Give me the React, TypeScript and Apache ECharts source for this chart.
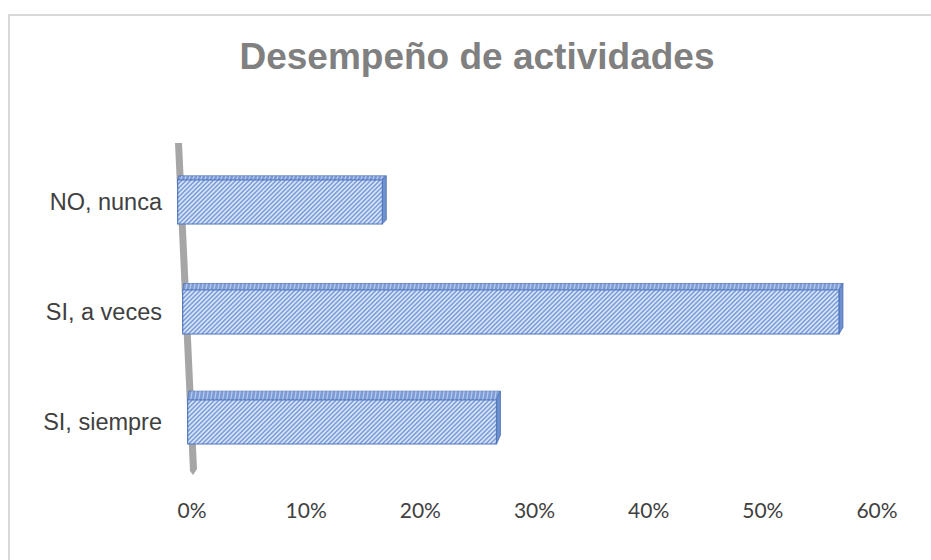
import React, { useEffect, useRef } from "react";
import * as echarts from "echarts";

const titleText = "Desempeño de actividades";
const categories = ["SI, siempre", "SI, a veces", "NO, nunca"];
const values = [0.2667, 0.5667, 0.1667];
const xMin = 0;
const xMax = 0.6;
const xInterval = 0.1;

export default function App() {
  const ref = useRef<HTMLDivElement>(null);

  useEffect(() => {
    document.body.style.margin = "0";
    const chart = echarts.init(ref.current!, null, { renderer: "svg" });

    const renderItem = (params: any, api: any) => {
      const v = api.value(0);
      const ci = api.value(1);
      const end = api.coord([v, ci]);
      const base = api.coord([0, ci]);
      const cs = params.coordSys;
      const gridTop = cs.y;
      const gridBot = cs.y + cs.height;
      const band = api.size([0, 1])[1];
      const h = band * 0.4;
      const yc = end[1];
      const wTop = gridTop - 4;
      const wBot = gridBot - 4;
      const wallLeft = (y: number) =>
        base[0] - 17 + ((y - wTop) / (wBot - wTop)) * 15;
      const children: any[] = [];
      if (params.dataIndex === 0) {
        const a = wallLeft(wTop);
        const b = wallLeft(wBot);
        children.push({
          type: "polygon",
          z2: 0,
          shape: {
            points: [
              [a, wTop],
              [a + 7, wTop],
              [b + 7, wBot - 4],
              [b + 3, wBot + 2],
              [b, wBot - 2],
            ],
          },
          style: { fill: "#a6a6a6" },
        });
      }
      const yT = yc - h / 2;
      const yB = yc + h / 2;
      const xl = wallLeft(yc);
      const xr = end[0];
      const d = 3 + ((yc - gridTop) / cs.height) * 7;
      const dx = 4;
      // top face
      children.push({
        type: "polygon",
        z2: 5,
        shape: {
          points: [
            [xl, yT],
            [xl + 1, yT - d],
            [xr + dx, yT - d],
            [xr, yT],
          ],
        },
        style: { fill: "#7d9cd6", stroke: "#4f74b8", lineWidth: 0.8 },
      });
      for (let x = xl + 3; x < xr - 1; x += 4) {
        children.push({
          type: "line",
          z2: 6,
          shape: { x1: x, y1: yT, x2: x + 1.5, y2: yT - d },
          style: { stroke: "#b7cbee", lineWidth: 1.2 },
        });
      }
      // right face
      children.push({
        type: "polygon",
        z2: 5,
        shape: {
          points: [
            [xr, yT],
            [xr + dx, yT - d],
            [xr + dx, yB - d],
            [xr, yB],
          ],
        },
        style: { fill: "#6f90cc", stroke: "#4f74b8", lineWidth: 0.8 },
      });
      // front face
      children.push({
        type: "rect",
        z2: 7,
        shape: { x: xl, y: yT, width: xr - xl, height: h },
        style: { fill: "#d6e3f7" },
      });
      const s = 4.5;
      for (let c = xl + yT; c < xr + yB; c += s) {
        const xa = Math.max(xl, c - yB);
        const xb = Math.min(xr, c - yT);
        if (xb > xa) {
          children.push({
            type: "line",
            z2: 8,
            shape: { x1: xa, y1: c - xa, x2: xb, y2: c - xb },
            style: { stroke: "#7699d8", lineWidth: 1.4 },
          });
        }
      }
      children.push({
        type: "rect",
        z2: 9,
        shape: { x: xl, y: yT, width: xr - xl, height: h },
        style: { fill: "none", stroke: "#5077bd", lineWidth: 1.2 },
      });
      return { type: "group", children };
    };

    chart.setOption({
      animation: false,
      backgroundColor: "#ffffff",
      graphic: [
        {
          type: "polyline",
          shape: { points: [[9, 560], [9, 15], [931, 15]] },
          style: { stroke: "#d9d9d9", lineWidth: 2, fill: "none" },
        },
        {
          type: "text",
          x: 477,
          y: 56,
          style: {
            text: titleText,
            fill: "#808080",
            font: "bold 37px 'Liberation Sans', Arial, sans-serif",
            textAlign: "center",
            textVerticalAlign: "middle",
          },
        },
      ],
      grid: { left: 192, right: 54, top: 147, height: 330 },
      xAxis: {
        type: "value",
        min: xMin,
        max: xMax,
        interval: xInterval,
        axisLine: { show: false },
        axisTick: { show: false },
        splitLine: { show: false },
        axisLabel: {
          margin: 22,
          color: "#404040",
          fontSize: 21,
          fontFamily: "Lato, sans-serif",
          formatter: (v: number) => Math.round(v * 100) + "%",
        },
      },
      yAxis: {
        type: "category",
        data: categories,
        axisLine: { show: false },
        axisTick: { show: false },
        axisLabel: {
          margin: 30,
          color: "#404040",
          fontSize: 23.5,
          padding: [6, 0, 0, 0],
          fontFamily: "'Liberation Sans', Arial, sans-serif",
        },
      },
      series: [
        {
          type: "custom",
          renderItem,
          encode: { x: 0, y: 1 },
          data: values.map((v, i) => [v, i]),
        },
      ],
    });
    return () => chart.dispose();
  }, []);

  return <div ref={ref} style={{ width: 931, height: 560 }} />;
}
